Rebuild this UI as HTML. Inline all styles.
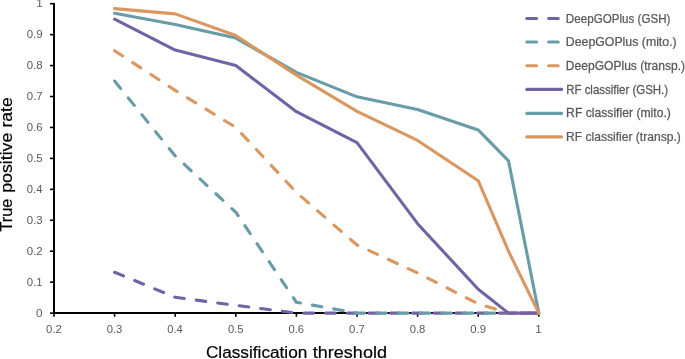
<!DOCTYPE html>
<html><head><meta charset="utf-8"><style>
html,body{margin:0;padding:0;background:#fff;width:685px;height:359px;overflow:hidden}
svg{display:block;will-change:transform;font-family:"Liberation Sans",sans-serif}
</style></head><body>
<svg width="685" height="359" viewBox="0 0 685 359">
<line x1="54.0" y1="3.10" x2="54.0" y2="314.10" stroke="#000" stroke-width="2"/>
<line x1="53.00" y1="313.1" x2="539.80" y2="313.1" stroke="#000" stroke-width="2"/>
<line x1="50.0" y1="313.10" x2="54.0" y2="313.10" stroke="#000" stroke-width="1.6"/>
<line x1="50.0" y1="282.16" x2="54.0" y2="282.16" stroke="#000" stroke-width="1.6"/>
<line x1="50.0" y1="251.22" x2="54.0" y2="251.22" stroke="#000" stroke-width="1.6"/>
<line x1="50.0" y1="220.28" x2="54.0" y2="220.28" stroke="#000" stroke-width="1.6"/>
<line x1="50.0" y1="189.34" x2="54.0" y2="189.34" stroke="#000" stroke-width="1.6"/>
<line x1="50.0" y1="158.40" x2="54.0" y2="158.40" stroke="#000" stroke-width="1.6"/>
<line x1="50.0" y1="127.46" x2="54.0" y2="127.46" stroke="#000" stroke-width="1.6"/>
<line x1="50.0" y1="96.52" x2="54.0" y2="96.52" stroke="#000" stroke-width="1.6"/>
<line x1="50.0" y1="65.58" x2="54.0" y2="65.58" stroke="#000" stroke-width="1.6"/>
<line x1="50.0" y1="34.64" x2="54.0" y2="34.64" stroke="#000" stroke-width="1.6"/>
<line x1="50.0" y1="3.70" x2="54.0" y2="3.70" stroke="#000" stroke-width="1.6"/>
<line x1="54.00" y1="313.1" x2="54.00" y2="316.70000000000005" stroke="#000" stroke-width="1.6"/>
<line x1="114.60" y1="313.1" x2="114.60" y2="316.70000000000005" stroke="#000" stroke-width="1.6"/>
<line x1="175.20" y1="313.1" x2="175.20" y2="316.70000000000005" stroke="#000" stroke-width="1.6"/>
<line x1="235.80" y1="313.1" x2="235.80" y2="316.70000000000005" stroke="#000" stroke-width="1.6"/>
<line x1="296.40" y1="313.1" x2="296.40" y2="316.70000000000005" stroke="#000" stroke-width="1.6"/>
<line x1="357.00" y1="313.1" x2="357.00" y2="316.70000000000005" stroke="#000" stroke-width="1.6"/>
<line x1="417.60" y1="313.1" x2="417.60" y2="316.70000000000005" stroke="#000" stroke-width="1.6"/>
<line x1="478.20" y1="313.1" x2="478.20" y2="316.70000000000005" stroke="#000" stroke-width="1.6"/>
<line x1="538.80" y1="313.1" x2="538.80" y2="316.70000000000005" stroke="#000" stroke-width="1.6"/>
<polyline points="114.60,272.26 175.20,297.32 235.80,305.37 296.40,313.10 357.00,313.10 417.60,313.10 478.20,313.10 508.50,313.10 538.80,313.10" fill="none" stroke="#7263a4" stroke-width="3.1" stroke-linejoin="round" stroke-linecap="round" stroke-dasharray="9.6 12.1"/>
<polyline points="114.60,81.05 175.20,155.92 235.80,212.24 296.40,302.27 357.00,313.10 417.60,313.10 478.20,313.10 508.50,313.10 538.80,313.10" fill="none" stroke="#689ca6" stroke-width="3.1" stroke-linejoin="round" stroke-linecap="round" stroke-dasharray="9.6 12.1"/>
<polyline points="114.60,50.73 175.20,90.33 235.80,127.46 296.40,192.43 357.00,245.03 417.60,272.88 478.20,303.82 508.50,313.10 538.80,313.10" fill="none" stroke="#da9760" stroke-width="3.1" stroke-linejoin="round" stroke-linecap="round" stroke-dasharray="9.6 12.1"/>
<polyline points="114.60,19.17 175.20,50.11 235.80,65.58 296.40,111.68 357.00,142.62 417.60,223.68 478.20,289.28 508.50,313.10 538.80,313.10" fill="none" stroke="#7263a4" stroke-width="3.1" stroke-linejoin="round" stroke-linecap="round"/>
<polyline points="114.60,13.29 175.20,24.43 235.80,38.04 296.40,72.39 357.00,96.83 417.60,109.51 478.20,129.94 508.50,160.88 538.80,313.10" fill="none" stroke="#689ca6" stroke-width="3.1" stroke-linejoin="round" stroke-linecap="round"/>
<polyline points="114.60,8.65 175.20,13.91 235.80,35.57 296.40,75.17 357.00,111.37 417.60,140.45 478.20,180.68 508.50,251.22 538.80,313.10" fill="none" stroke="#da9760" stroke-width="3.1" stroke-linejoin="round" stroke-linecap="round"/>
<text transform="translate(36.08,316.60) scale(1.1400,1)" font-size="10.3" fill="#595959">0</text>
<text transform="translate(26.80,285.66) scale(1.1109,1)" font-size="10.3" fill="#595959">0.1</text>
<text transform="translate(26.80,254.72) scale(1.1121,1)" font-size="10.3" fill="#595959">0.2</text>
<text transform="translate(26.80,223.78) scale(1.1067,1)" font-size="10.3" fill="#595959">0.3</text>
<text transform="translate(26.81,192.84) scale(1.0944,1)" font-size="10.3" fill="#595959">0.4</text>
<text transform="translate(26.81,161.90) scale(1.1051,1)" font-size="10.3" fill="#595959">0.5</text>
<text transform="translate(26.80,130.96) scale(1.1067,1)" font-size="10.3" fill="#595959">0.6</text>
<text transform="translate(26.80,100.02) scale(1.1121,1)" font-size="10.3" fill="#595959">0.7</text>
<text transform="translate(26.80,69.08) scale(1.1063,1)" font-size="10.3" fill="#595959">0.8</text>
<text transform="translate(26.80,38.14) scale(1.1096,1)" font-size="10.3" fill="#595959">0.9</text>
<text transform="translate(36.19,7.20) scale(1.1400,1)" font-size="10.3" fill="#595959">1</text>
<text transform="translate(46.11,332.60) scale(1.0972,1)" font-size="10.3" fill="#595959">0.2</text>
<text transform="translate(106.71,332.60) scale(1.0918,1)" font-size="10.3" fill="#595959">0.3</text>
<text transform="translate(167.32,332.60) scale(1.0797,1)" font-size="10.3" fill="#595959">0.4</text>
<text transform="translate(227.91,332.60) scale(1.0902,1)" font-size="10.3" fill="#595959">0.5</text>
<text transform="translate(288.51,332.60) scale(1.0918,1)" font-size="10.3" fill="#595959">0.6</text>
<text transform="translate(349.11,332.60) scale(1.0972,1)" font-size="10.3" fill="#595959">0.7</text>
<text transform="translate(409.71,332.60) scale(1.0914,1)" font-size="10.3" fill="#595959">0.8</text>
<text transform="translate(470.31,332.60) scale(1.0947,1)" font-size="10.3" fill="#595959">0.9</text>
<text transform="translate(535.27,332.60) scale(1.1400,1)" font-size="10.3" fill="#595959">1</text>
<line x1="526.8" y1="18.45" x2="536.6" y2="18.45" stroke="#7263a4" stroke-width="3.1" stroke-linecap="round"/>
<line x1="548.6" y1="18.45" x2="558.2" y2="18.45" stroke="#7263a4" stroke-width="3.1" stroke-linecap="round"/>
<text transform="translate(565.85,22.50) scale(0.9609,1)" font-size="12.1" fill="#595959" stroke="#595959" stroke-width="0.25">DeepGOPlus (GSH)</text>
<line x1="526.8" y1="42.0" x2="536.6" y2="42.0" stroke="#689ca6" stroke-width="3.1" stroke-linecap="round"/>
<line x1="548.6" y1="42.0" x2="558.2" y2="42.0" stroke="#689ca6" stroke-width="3.1" stroke-linecap="round"/>
<text transform="translate(565.79,45.90) scale(1.0188,1)" font-size="12.1" fill="#595959" stroke="#595959" stroke-width="0.25">DeepGOPlus (mito.)</text>
<line x1="526.8" y1="65.8" x2="536.6" y2="65.8" stroke="#da9760" stroke-width="3.1" stroke-linecap="round"/>
<line x1="548.6" y1="65.8" x2="558.2" y2="65.8" stroke="#da9760" stroke-width="3.1" stroke-linecap="round"/>
<text transform="translate(565.81,69.90) scale(0.9970,1)" font-size="12.1" fill="#595959" stroke="#595959" stroke-width="0.25">DeepGOPlus (transp.)</text>
<line x1="526.8" y1="89.4" x2="561.6" y2="89.4" stroke="#7263a4" stroke-width="3.1" stroke-linecap="round"/>
<text transform="translate(566.16,93.70) scale(0.9488,1)" font-size="12.1" fill="#595959" stroke="#595959" stroke-width="0.25">RF classifier (GSH.)</text>
<line x1="526.8" y1="113.4" x2="561.6" y2="113.4" stroke="#689ca6" stroke-width="3.1" stroke-linecap="round"/>
<text transform="translate(566.10,117.10) scale(1.0063,1)" font-size="12.1" fill="#595959" stroke="#595959" stroke-width="0.25">RF classifier (mito.)</text>
<line x1="526.8" y1="136.9" x2="561.6" y2="136.9" stroke="#da9760" stroke-width="3.1" stroke-linecap="round"/>
<text transform="translate(566.11,140.50) scale(0.9980,1)" font-size="12.1" fill="#595959" stroke="#595959" stroke-width="0.25">RF classifier (transp.)</text>
<text transform="translate(205.93,357.60) scale(1.0505,1)" font-size="16.4" fill="#000" stroke="#000" stroke-width="0.2">Classification</text>
<text transform="translate(312.83,357.60) scale(1.0988,1)" font-size="16.4" fill="#000" stroke="#000" stroke-width="0.2">threshold</text>
<text transform="translate(11.70,231.47) rotate(-90) scale(0.9931,1)" font-size="16.4" fill="#000" stroke="#000" stroke-width="0.2">True</text>
<text transform="translate(11.70,192.85) rotate(-90) scale(1.0832,1)" font-size="16.4" fill="#000" stroke="#000" stroke-width="0.2">positive</text>
<text transform="translate(11.70,127.57) rotate(-90) scale(1.0741,1)" font-size="16.4" fill="#000" stroke="#000" stroke-width="0.2">rate</text>
</svg>
</body></html>
